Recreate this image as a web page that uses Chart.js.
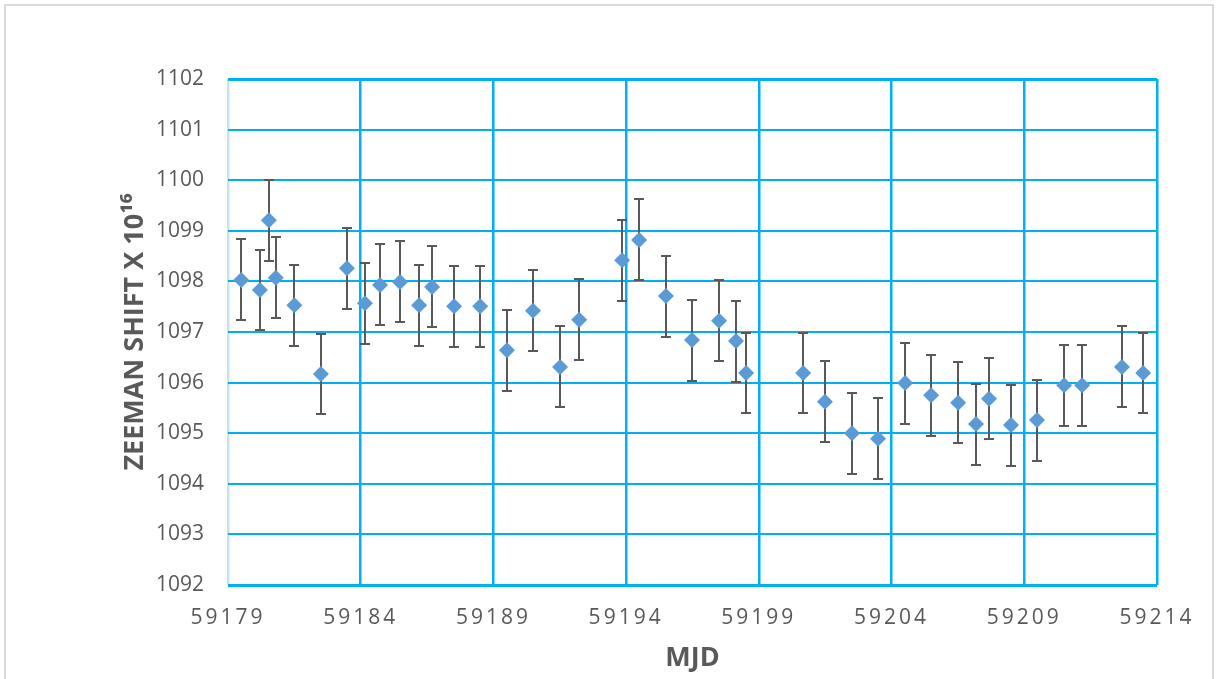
<!DOCTYPE html>
<html><head><meta charset="utf-8">
<script src="https://cdn.jsdelivr.net/npm/chart.js@4.4.1/dist/chart.umd.min.js"></script>
<style>
html,body{margin:0;padding:0;background:#fff;overflow:hidden;}
#frame{position:absolute;left:4px;top:4px;width:1210px;height:720px;border:2px solid #D9D9D9;box-sizing:border-box;}
#wrap{position:absolute;left:0;top:0;width:1217px;height:679px;}
</style></head><body>
<div id="frame"></div>
<div id="wrap"><canvas id="c" width="1217" height="679"></canvas></div>
<script>
// MJD of each measurement
const mjd = [59179.5, 59180.2, 59180.54, 59180.8, 59181.5, 59182.5, 59183.48, 59184.16, 59184.73, 59185.48,
             59186.2, 59186.69, 59187.52, 59188.5, 59189.51, 59190.49, 59191.51, 59192.23, 59193.85, 59194.49,
             59195.5, 59196.48, 59197.5, 59198.14, 59198.52, 59200.67, 59201.49, 59202.51, 59203.49, 59204.51,
             59205.49, 59206.51, 59207.18, 59207.67, 59208.5, 59209.48, 59210.5, 59211.18, 59212.68, 59213.48];
// Zeeman shift x 10^16
const shift = [1098.03, 1097.83, 1099.21, 1098.07, 1097.53, 1096.17, 1098.26, 1097.57, 1097.93, 1097.99,
               1097.53, 1097.89, 1097.51, 1097.51, 1096.64, 1097.42, 1096.31, 1097.24, 1098.42, 1098.82,
               1097.71, 1096.84, 1097.22, 1096.82, 1096.19, 1096.19, 1095.62, 1095.00, 1094.89, 1095.99,
               1095.75, 1095.60, 1095.18, 1095.68, 1095.16, 1095.26, 1095.95, 1095.95, 1096.31, 1096.19];
// error (±)
const err = [0.8, 0.8, 0.8, 0.8, 0.8, 0.8, 0.8, 0.8, 0.8, 0.8,
             0.8, 0.8, 0.8, 0.8, 0.8, 0.8, 0.8, 0.8, 0.8, 0.8,
             0.8, 0.8, 0.8, 0.8, 0.8, 0.8, 0.8, 0.8, 0.8, 0.8,
             0.8, 0.8, 0.8, 0.8, 0.8, 0.8, 0.8, 0.8, 0.8, 0.8];
const xTicks = [59179, 59184, 59189, 59194, 59199, 59204, 59209, 59214];
const yTicks = [1092, 1093, 1094, 1095, 1096, 1097, 1098, 1099, 1100, 1101, 1102];
const xTitle = 'MJD';
const yTitle = 'ZEEMAN SHIFT X 10\u00B9\u2076';

const GRID = '#00B0F0';
const TXT = '#595959';

const errorBars = {
  id: 'errorBars',
  beforeDatasetsDraw(chart) {
    const {ctx, scales: {x, y}} = chart;
    ctx.save();
    ctx.strokeStyle = '#595959';
    ctx.lineWidth = 2;
    mjd.forEach((m, i) => {
      const px = Math.round(x.getPixelForValue(m));
      const top = Math.round(y.getPixelForValue(shift[i] + err[i]));
      const bot = Math.round(y.getPixelForValue(shift[i] - err[i]));
      ctx.beginPath();
      ctx.moveTo(px, top); ctx.lineTo(px, bot);
      ctx.moveTo(px - 5, top); ctx.lineTo(px + 5, top);
      ctx.moveTo(px - 5, bot); ctx.lineTo(px + 5, bot);
      ctx.stroke();
    });
    ctx.restore();
  },
  afterDatasetsDraw(chart) { chart.ctx.letterSpacing = '3px'; },
  afterDraw(chart) { chart.ctx.letterSpacing = '0px'; }
};

new Chart(document.getElementById('c'), {
  type: 'scatter',
  data: {
    datasets: [{
      data: mjd.map((m, i) => ({x: m, y: shift[i]})),
      pointStyle: 'rectRot',
      pointRadius: 8,
      pointHoverRadius: 8,
      backgroundColor: '#5B9BD5',
      borderColor: '#5B9BD5',
      borderWidth: 0,
      showLine: false
    }]
  },
  options: {
    responsive: false,
    animation: false,
    events: [],
    layout: {padding: {top: 79, right: 60, left: 0, bottom: 0}},
    plugins: {legend: {display: false}, tooltip: {enabled: false}},
    scales: {
      x: {
        type: 'linear',
        min: xTicks[0], max: xTicks[xTicks.length - 1],
        afterBuildTicks: s => { s.ticks = xTicks.map(v => ({value: v})); },
        afterFit: s => { s.height = 94; },
        grid: {
          color: c => (c.tick && c.tick.value === xTicks[0]) ? '#C6E2F3' : GRID,
          lineWidth: 2.5,
          drawTicks: false
        },
        border: {display: false},
        ticks: {
          z: 1,
          padding: 20,
          color: TXT,
          font: {family: 'Open Sans', size: 21},
          callback: v => String(v)
        },
        title: {
          display: true, text: xTitle, color: TXT,
          font: {family: 'Open Sans', size: 27, weight: 'bold'},
          padding: {top: 0, bottom: 4}
        }
      },
      y: {
        min: yTicks[0], max: yTicks[yTicks.length - 1],
        afterBuildTicks: s => { s.ticks = yTicks.map(v => ({value: v})); },
        afterFit: s => { s.width = 228; },
        grid: {
          color: GRID,
          lineWidth: c => (c.tick && (c.tick.value === yTicks[0] || c.tick.value === yTicks[yTicks.length - 1])) ? 3 : 2,
          drawTicks: false
        },
        border: {display: false},
        ticks: {
          padding: 24,
          color: TXT,
          font: {family: 'Open Sans', size: 21},
          callback: v => String(v)
        },
        title: {
          display: true, text: yTitle, color: TXT,
          font: {family: 'Open Sans', size: 27, weight: 'bold'},
          padding: {top: 119, bottom: 0}
        }
      }
    }
  },
  plugins: [errorBars]
});
</script>
</body></html>
